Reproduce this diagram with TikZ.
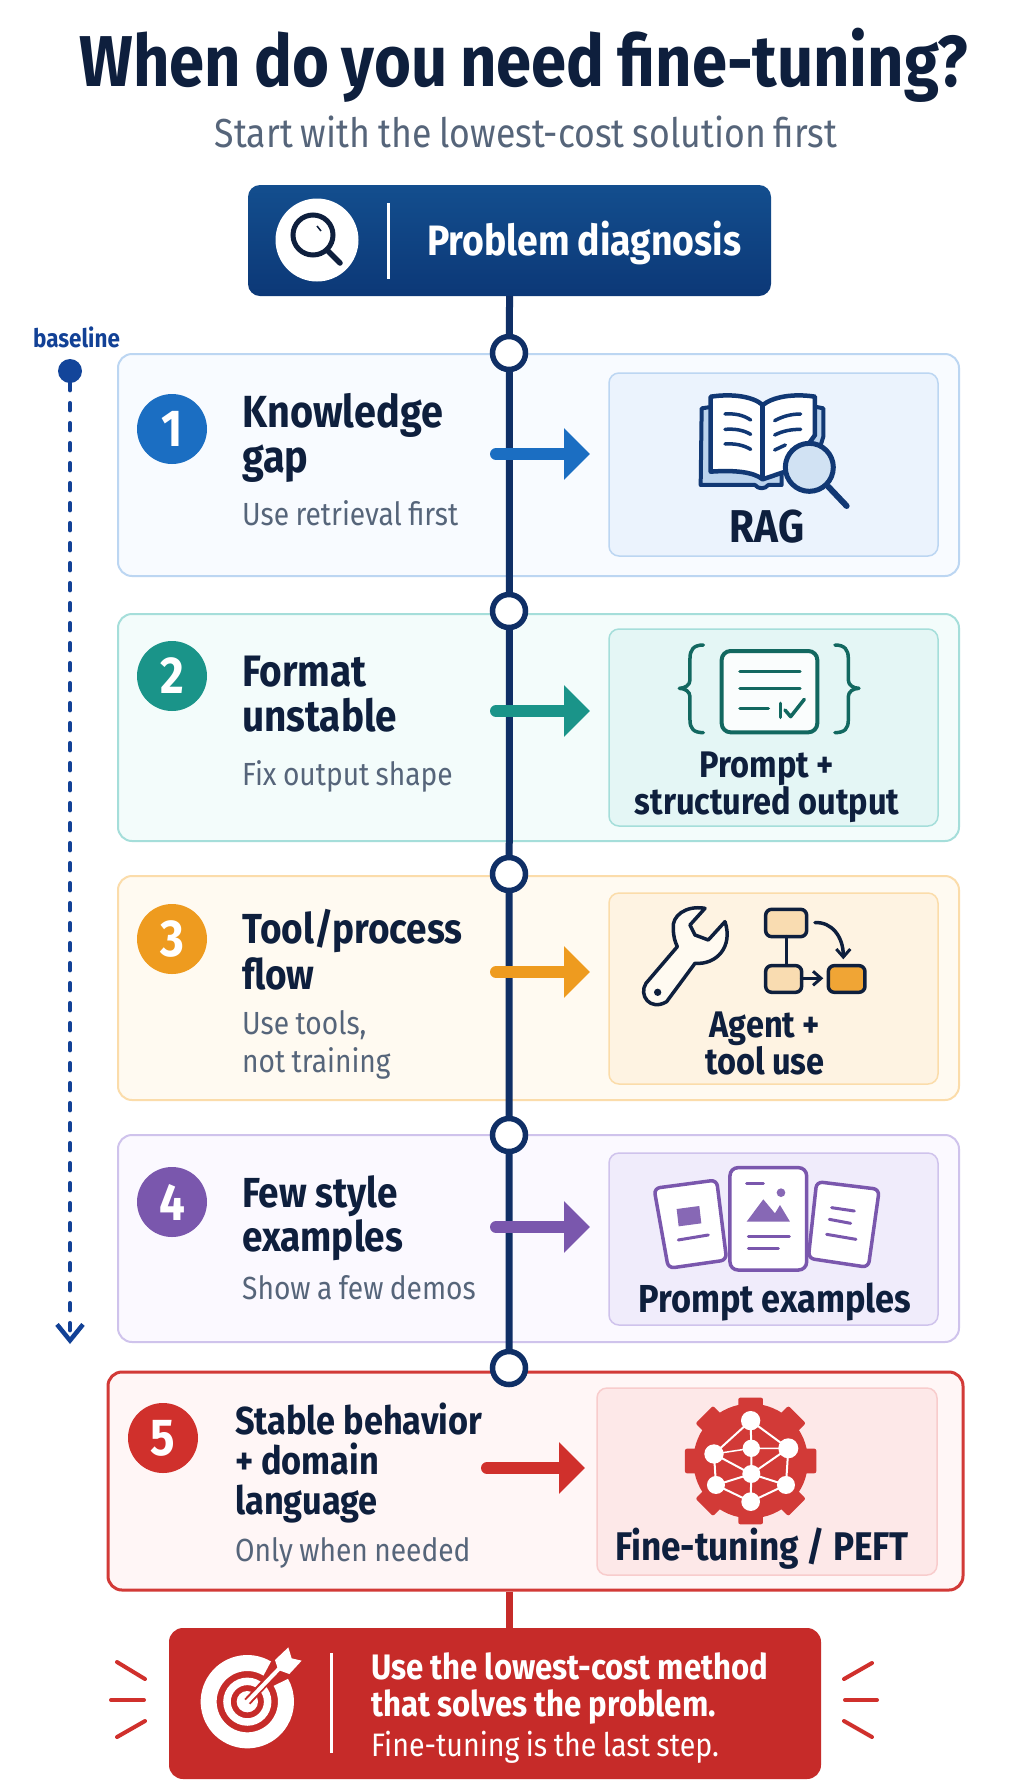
\documentclass[tikz,border=0pt]{standalone}
\usepackage{fontspec}
\setmainfont[FakeStretch=0.88,WordSpace=0.85]{Fira Sans}
\usetikzlibrary{arrows.meta}
\definecolor{navy}{HTML}{0F2F66}
\definecolor{ink}{HTML}{0E1F3D}
\definecolor{greytxt}{HTML}{56657A}
\definecolor{basecol}{HTML}{124196}
\definecolor{blueA}{HTML}{1B6EC2}
\definecolor{tealA}{HTML}{1A9489}
\definecolor{orangeA}{HTML}{EE9B1F}
\definecolor{purpleA}{HTML}{7A57AD}
\definecolor{redA}{HTML}{D0302C}
\definecolor{redbox}{HTML}{C62B29}
\definecolor{cardA}{HTML}{F8FBFF} \definecolor{panelA}{HTML}{EBF3FD} \definecolor{lineA}{HTML}{BCD6F2}
\definecolor{cardB}{HTML}{F3FCFB} \definecolor{panelB}{HTML}{E4F6F5} \definecolor{lineB}{HTML}{A5DEDA}
\definecolor{cardC}{HTML}{FFFAF1} \definecolor{panelC}{HTML}{FEF3E2} \definecolor{lineC}{HTML}{FBDCAA}
\definecolor{cardD}{HTML}{FBF9FF} \definecolor{panelD}{HTML}{F0ECFB} \definecolor{lineD}{HTML}{CFC3EC}
\definecolor{cardE}{HTML}{FFF6F6} \definecolor{panelE}{HTML}{FDE8E8} \definecolor{lineE}{HTML}{F8CCCC}
\definecolor{headtop}{HTML}{134E8E} \definecolor{headbot}{HTML}{0C3877}
\tikzset{
  tight/.style={execute at begin node={\spaceskip=.2em\xspaceskip=.2em\relax}},
  card/.style 2 args={draw=#1,fill=#2,rounded corners=14pt,line width=2pt,minimum width=841pt},
  panel/.style 2 args={draw=#1,fill=#2,rounded corners=10pt,line width=1.5pt,minimum width=329pt},
  numdot/.style={circle,fill=#1,text=white,minimum size=70pt,inner sep=0,font=\fontsize{52}{52}\selectfont\bfseries},
  stopdot/.style={circle,draw=navy,fill=white,line width=5.5pt,minimum size=33pt,inner sep=0},
  tline/.style={navy,line width=7pt},
  flow/.style={#1,line width=12pt,line cap=round,-{Triangle[length=26pt,width=50pt]}},
  hd/.style={tight,anchor=base west,inner sep=0,text=ink,align=left,text width=300pt,font=\fontsize{44}{45}\selectfont\bfseries},
  subt/.style={tight,anchor=base west,inner sep=0,text=greytxt,align=left,text width=300pt,font=\fontsize{32}{38}\selectfont},
  lab/.style={tight,anchor=base,inner sep=0,text=ink,align=center,text width=320pt,font=\fontsize{37}{36}\selectfont\bfseries},
  ray/.style={redA,line width=4pt,line cap=round},
  icon/.style={draw=#1,line width=3.5pt,line cap=round,line join=round}
}
\begin{document}
\begin{tikzpicture}[x=1pt,y=-1pt]
\useasboundingbox (0,0) rectangle (1024,1792);
\fill[white] (0,0) rectangle (1024,1792);
\node[anchor=base,inner sep=0,text=ink,font=\fontsize{72}{80}\selectfont\bfseries] (title) at (524,86) {When do you need fine-tuning?};
\node[anchor=base,inner sep=0,text=greytxt,font=\fontsize{40.5}{44}\selectfont] (subtitle) at (526,147) {Start with the lowest-cost solution first};
% cards
\node[card={lineA}{cardA},minimum height=222pt] (card1) at (538.5,465) {};
\node[card={lineB}{cardB},minimum height=227pt] (card2) at (538.5,727.5) {};
\node[card={lineC}{cardC},minimum height=224pt] (card3) at (538.5,988) {};
\node[card={lineD}{cardD},minimum height=207pt] (card4) at (538.5,1238.5) {};
\node[card={redA!95}{cardE},line width=3pt,minimum width=855pt,minimum height=218pt] (card5) at (535.5,1481) {};
\node[panel={lineA}{panelA},minimum height=183pt] (panel1) at (773.5,464.5) {};
\node[panel={lineB}{panelB},minimum height=197pt] (panel2) at (773.5,727.5) {};
\node[panel={lineC}{panelC},minimum height=191pt] (panel3) at (773.5,988.5) {};
\node[panel={lineD}{panelD},minimum height=172pt] (panel4) at (773.5,1239) {};
\node[panel={lineE}{panelE},minimum width=340pt,minimum height=187pt] (panel5) at (767,1481.5) {};
% header
\node[rounded corners=12pt,top color=headtop,bottom color=headbot,minimum width=523pt,minimum height=111pt] (diag) at (509.5,240.5) {};
\node[circle,fill=white,minimum size=83pt,inner sep=0] (diagdot) at (317,240) {};
\draw[white,line width=3pt] (388,203) -- (388,279);
\draw[ink,line width=5pt] (313,235) circle (20pt);
\draw[ink,line width=5.5pt,line cap=round] (327,250) -- (340,263);
\draw[ink,line width=1.5pt] (317,226) -- (321,231);
\node[anchor=base west,inner sep=0,text=white,font=\fontsize{42.5}{44}\selectfont\bfseries] (diagtxt) at (427,255) {Problem diagnosis};
% timeline
\coordinate (t1) at (509,353); \coordinate (t2) at (509,611); \coordinate (t3) at (509,874);
\coordinate (t4) at (509,1135); \coordinate (t5) at (509,1368);
\draw[tline] (diag.south) -- (t5);
\node[stopdot] (tl1) at (t1) {}; %1
\node[stopdot] (tl2) at (t2) {}; %2
\node[stopdot] (tl3) at (t3) {}; %3
\node[stopdot] (tl4) at (t4) {}; %4
\node[stopdot] (tl5) at (t5) {}; %5
\draw[redbox,line width=7pt] (t5 |- card5.south) -- (t5 |- 0,1628);
% baseline
\node[anchor=base,inner sep=0,text=basecol,font=\fontsize{25.5}{27}\selectfont\bfseries] (baselbl) at (76.5,347) {baseline};
\node[circle,fill=basecol!90!blueA,minimum size=24pt,inner sep=0] (basedot) at (70,371) {};
\coordinate (baseend) at (70,1344);
\draw[basecol,line width=4.5pt,line cap=round,dash pattern=on 7pt off 13pt,-{Straight Barb[length=16pt,width=26pt,line width=4.5pt]}] (basedot) -- (baseend);
% arrows
\coordinate (a1s) at (496,454); \coordinate (a1e) at (590,454);
\coordinate (a2s) at (496,711); \coordinate (a2e) at (590,711);
\coordinate (a3s) at (496,972); \coordinate (a3e) at (590,972);
\coordinate (a4s) at (496,1227); \coordinate (a4e) at (590,1227);
\coordinate (a5s) at (487,1468); \coordinate (a5e) at (585,1468);
\draw[flow=blueA] (a1s) -- (a1e);
\draw[flow=tealA] (a2s) -- (a2e);
\draw[flow=orangeA] (a3s) -- (a3e);
\draw[flow=purpleA] (a4s) -- (a4e);
\draw[flow=redA] (a5s) -- (a5e);
% number circles
\node[numdot=blueA] (n1) at (172,429) {1};
\node[numdot=tealA] (n2) at (172,676) {2};
\node[numdot=orangeA] (n3) at (172,939) {3};
\node[numdot=purpleA] (n4) at (172,1202) {4};
\node[numdot=redA] (n5) at (163,1438) {5};
% left texts
\node[hd,font=\fontsize{45}{45}\selectfont\bfseries] (h1) at (242,427) {Knowledge\\gap};
\node[subt] (s1) at (242,525) {Use retrieval first};
\node[hd] (h2) at (242,686) {Format\\unstable};
\node[subt] (s2) at (242,785) {Fix output shape};
\node[hd,font=\fontsize{42}{46}\selectfont\bfseries] (h3) at (242,943) {Tool/process\\flow};
\node[subt] (s3) at (242,1034) {Use tools,\\not training};
\node[hd,font=\fontsize{42}{44}\selectfont\bfseries] (h4) at (242,1207) {Few style\\examples};
\node[subt] (s4) at (242,1299) {Show a few demos};
\node[hd,font=\fontsize{39}{40}\selectfont\bfseries] (h5) at (235,1434) {Stable behavior\\+ domain\\language};
\node[subt] (s5) at (235,1561) {Only when needed};
% panel texts
\node[lab,font=\fontsize{46}{46}\selectfont\bfseries] (l1) at (767,542) {RAG};
\node[lab] (l2) at (767,777) {Prompt +\\structured output};
\node[lab] (l3) at (765,1037) {Agent +\\tool use};
\node[lab,font=\fontsize{39}{40}\selectfont\bfseries] (l4) at (775,1312) {Prompt examples};
\node[lab,font=\fontsize{40}{40}\selectfont\bfseries] (l5) at (762,1560) {Fine-tuning / PEFT};
% book icon
\begin{scope}[shift={(680,380)},x=0.3333pt,y=-0.3333pt]
\draw[navy!85!blueA,fill=blueA!30,line width=4pt,line join=round] (85,82) -- (65,85) -- (62,315) -- (225,315) .. controls (235,328) and (255,328) .. (265,315) -- (305,315) -- (305,250) -- (405,250) -- (430,170) -- (430,85) -- (405,80) -- cycle;
\draw[navy!85!blueA,fill=white,line width=4.5pt,line join=round] (92,50) .. controls (160,40) and (220,50) .. (248,75) .. controls (280,50) and (340,40) .. (405,50) -- (405,165) -- (330,270) -- (248,298) .. controls (220,275) and (160,270) .. (92,275) -- cycle;
\draw[navy!85!blueA,line width=4.5pt] (248,75) -- (248,298);
\draw[navy!85!blueA,line width=3.5pt,line cap=round] (135,102) .. controls (165,100) and (190,105) .. (212,120);
\draw[navy!85!blueA,line width=3.5pt,line cap=round] (135,148) .. controls (165,146) and (190,150) .. (212,163);
\draw[navy!85!blueA,line width=3.5pt,line cap=round] (135,192) .. controls (165,190) and (190,195) .. (212,208);
\draw[navy!85!blueA,line width=3.5pt,line cap=round] (284,122) .. controls (310,108) and (335,102) .. (362,102);
\draw[navy!85!blueA,line width=3.5pt,line cap=round] (284,165) .. controls (310,152) and (335,148) .. (362,148);
\draw[navy!85!blueA,line width=3.5pt,line cap=round] (284,210) -- (316,195);
\draw[navy!85!blueA,fill=blueA!20,line width=5pt] (388,262) circle (72);
\draw[navy!85!blueA,line width=6pt,line cap=round] (445,320) -- (500,378);
\end{scope}
% braces icon
\begin{scope}[shift={(560,600)},x=0.3333pt,y=-0.3333pt]
\draw[icon=tealA!70!black] (430,135) .. controls (400,135) and (390,150) .. (390,175) -- (390,240) .. controls (390,255) and (375,265) .. (358,265) .. controls (375,265) and (390,275) .. (390,290) -- (390,360) .. controls (390,385) and (400,398) .. (430,398);
\draw[icon=tealA!70!black] (825,135) .. controls (855,135) and (865,150) .. (865,175) -- (865,240) .. controls (865,255) and (880,265) .. (897,265) .. controls (880,265) and (865,275) .. (865,290) -- (865,360) .. controls (865,385) and (855,398) .. (825,398);
\draw[icon=tealA!70!black,fill=white!80!tealA!10,line width=4pt,rounded corners=9pt] (485,153) rectangle (772,397);
\draw[icon=tealA!70!black] (540,215) -- (720,215);
\draw[icon=tealA!70!black] (540,265) -- (720,265);
\draw[icon=tealA!70!black] (540,325) -- (625,325);
\draw[icon=tealA!70!black] (662,310) -- (662,352);
\draw[icon=tealA!70!black] (675,330) -- (692,350) -- (733,298);
% wrench icon
\draw[icon=ink,fill=cardC] (435,925) .. controls (375,915) and (335,950) .. (340,985) .. controls (340,1010) and (345,1025) .. (352,1040) -- (258,1150) .. controls (235,1185) and (270,1235) .. (320,1205) -- (405,1090) .. controls (470,1095) and (520,1040) .. (495,965) -- (445,1020) -- (405,1005) -- (390,975) -- cycle;
\fill[ink] (293,1177) circle (11);
% flow icon
\draw[icon=ink,fill=orangeA!35,rounded corners=6pt] (617,928) rectangle (740,1010);
\draw[icon=ink] (680,1010) -- (680,1097);
\draw[icon=ink,fill=orangeA!35,rounded corners=6pt] (617,1097) rectangle (725,1177);
\draw[icon=ink,fill=orangeA!90,rounded corners=6pt] (805,1097) rectangle (915,1177);
\draw[icon=ink,-{Straight Barb[length=8pt,width=14pt,line width=3pt]}] (725,1135) -- (790,1135);
\draw[icon=ink,-{Straight Barb[length=8pt,width=14pt,line width=3pt]}] (765,968) .. controls (815,965) and (850,1010) .. (850,1078);
\end{scope}
% example cards icon
\begin{scope}[shift={(560,1130)},x=0.3333pt,y=-0.3333pt]
\draw[purpleA,fill=white,line width=3.5pt,line join=round,rounded corners=6pt] (282,175) -- (470,150) -- (500,390) -- (325,415) -- cycle;
\draw[purpleA,fill=white,line width=3.5pt,line join=round,rounded corners=6pt] (770,155) -- (958,178) -- (925,412) -- (745,385) -- cycle;
\draw[purpleA,fill=white,line width=3.5pt,rounded corners=8pt] (510,113) rectangle (740,420);
\fill[purpleA!90] (350,237) -- (418,228) -- (424,280) -- (356,289) -- cycle;
\draw[purpleA,line width=3pt,line cap=round] (355,330) -- (445,315);
\draw[purpleA,line width=3pt,line cap=round] (560,160) -- (610,160);
\fill[purpleA!90] (663,188) circle (13);
\fill[purpleA!90] (560,275) -- (610,208) -- (645,250) -- (660,225) -- (690,275) -- cycle;
\draw[purpleA,line width=3pt,line cap=round] (565,318) -- (688,318);
\draw[purpleA,line width=3pt,line cap=round] (565,356) -- (655,356);
\draw[purpleA,line width=3pt,line cap=round] (815,233) -- (883,243);
\draw[purpleA,line width=3pt,line cap=round] (808,268) -- (872,280);
\draw[purpleA,line width=3pt,line cap=round] (800,313) -- (888,328);
% gear icon
\fill[redA!95] (572,993) circle (172);
\fill[redA!95,rounded corners=2pt,rotate around={0:(572,993)}] (535,803) rectangle (609,1183);
\fill[redA!95,rounded corners=2pt,rotate around={45:(572,993)}] (535,796) rectangle (609,1190);
\fill[redA!95,rounded corners=2pt,rotate around={90:(572,993)}] (535,796) rectangle (609,1190);
\fill[redA!95,rounded corners=2pt,rotate around={135:(572,993)}] (535,796) rectangle (609,1190);
\draw[white,line width=2pt] (572,872) -- (462,972) -- (468,1065) -- (572,1115) -- (678,1065) -- (685,955) -- cycle;
\draw[white,line width=2pt] (572,872) -- (574,955) -- (574,1032) -- (572,1115);
\draw[white,line width=2pt] (462,972) -- (574,1032) -- (685,955);
\draw[white,line width=2pt] (468,1065) -- (574,1032) -- (678,1065);
\draw[white,line width=1.5pt] (462,972) -- (574,955) -- (685,955);
\fill[white] (572,872) circle (29); \fill[white] (462,972) circle (29);
\fill[white] (574,955) circle (26); \fill[white] (685,955) circle (30);
\fill[white] (574,1032) circle (27); \fill[white] (468,1065) circle (27);
\fill[white] (678,1065) circle (27); \fill[white] (572,1115) circle (28);
\end{scope}
% final box
\node[rounded corners=14pt,fill=redbox,minimum width=652pt,minimum height=151pt] (finalbox) at (495,1703.5) {};
\draw[white,line width=3pt] (331,1653) -- (331,1753);
\begin{scope}[shift={(190,1640)},x=0.3333pt,y=-0.3333pt]
\draw[white,line width=16pt] (172,185) ++(-59:116) arc[start angle=-59,end angle=-390,radius=116];
\draw[white,line width=7.5pt] (172,185) circle (61);
\fill[white] (172,185) circle (32);
\draw[redbox,line width=8pt] (172,185) -- (280,70);
\draw[white,line width=4pt,line cap=round] (172,185) -- (275,78);
\fill[white] (255,60) -- (295,22) -- (305,55) -- (335,62) -- (298,102) -- (265,90) -- cycle;
\end{scope}
\node[tight,anchor=base west,inner sep=0,text=white,align=left,text width=440pt,font=\fontsize{35.4}{37}\selectfont\bfseries] (msg) at (371,1679) {Use the lowest-cost method\\that solves the problem.};
\node[anchor=base west,inner sep=0,text=white,font=\fontsize{32.5}{34}\selectfont] (msgsub) at (371,1756) {Fine-tuning is the last step.};
\draw[ray] (117,1662) -- (145,1679);
\draw[ray] (111,1700) -- (144,1700);
\draw[ray] (117,1737) -- (145,1721);
\draw[ray] (844,1679) -- (872,1663);
\draw[ray] (845,1700) -- (877,1700);
\draw[ray] (844,1721) -- (872,1737);
\end{tikzpicture}
\end{document}
